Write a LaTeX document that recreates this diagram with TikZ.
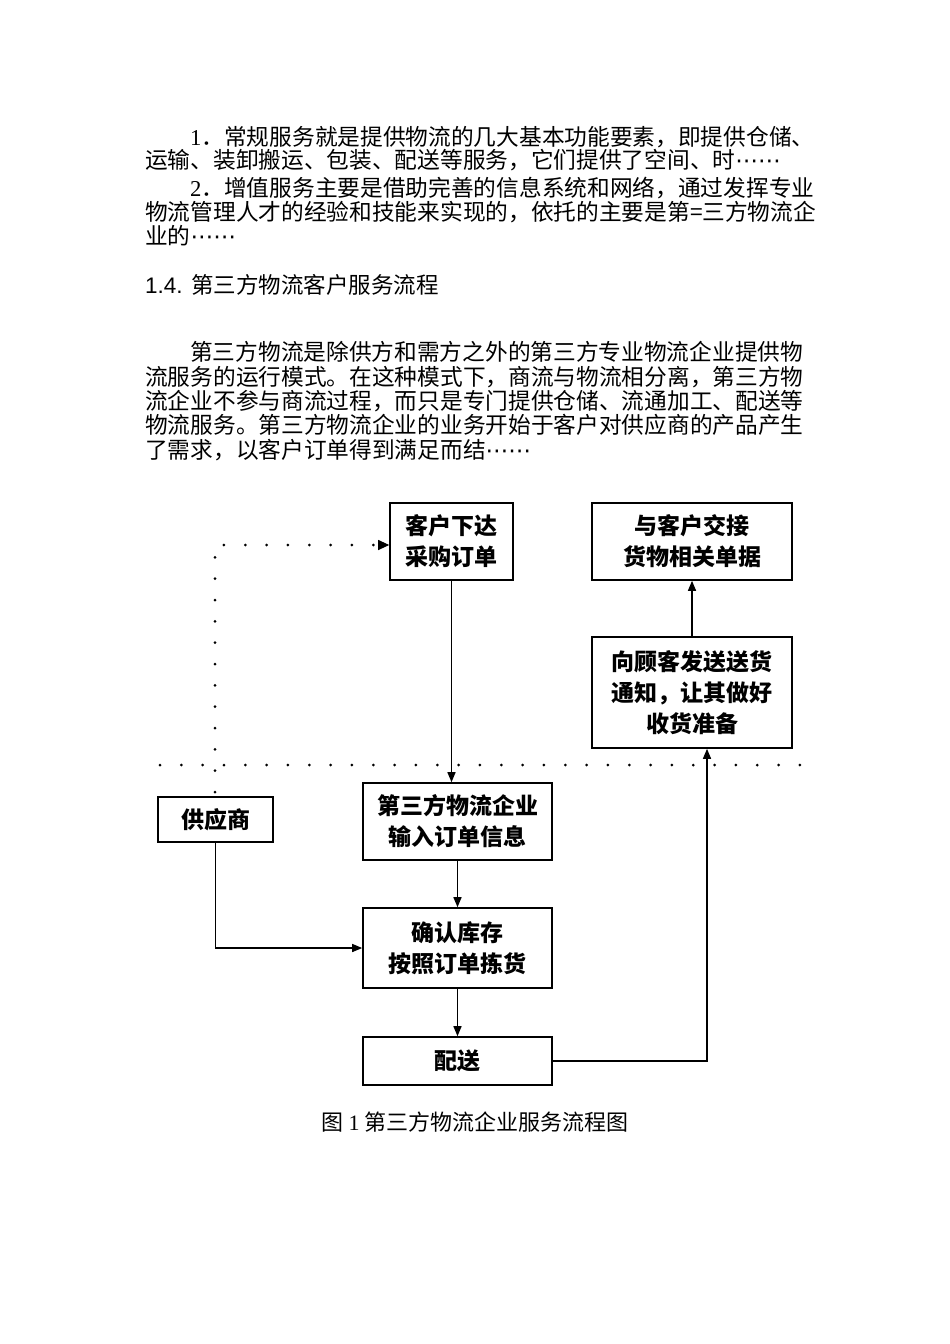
\documentclass[tikz,border=0pt]{standalone}
\usepackage{fontspec}
\setmainfont{Liberation Serif}
\newfontfamily\cjk{Noto Sans CJK SC}
\newfontfamily\lsans{Liberation Sans}
\newfontfamily\dejavu{DejaVu Sans}
\newcommand\myellip{{\dejavu ⋯⋯}}
\usetikzlibrary{arrows.meta}
\tikzset{
  bodyline/.style={anchor=base west, inner sep=0pt, font=\fontsize{22.7pt}{24pt}\selectfont\cjk},
  box/.style={draw=black, line width=1.6pt, inner sep=0pt, align=center,
    font=\fontsize{23pt}{31pt}\selectfont\cjk\bfseries},
  flow/.style={line width=1.4pt, -{Triangle[length=10pt,width=8pt]}},
  dotline/.style={line width=3pt, line cap=round, dash pattern=on 0pt off 21.33pt},
}
\begin{document}
\begin{tikzpicture}[x=1pt,y=-1pt]
\useasboundingbox[fill=white] (0,0) rectangle (950,1344);
% ---- text ----
\node[bodyline] (t1) at (190,145) {{\rmfamily 1}．常规服务就是提供物流的几大基本功能要素，即提供仓储、};
\node[bodyline] (t2) at (145,168) {运输、装卸搬运、包装、配送等服务，它们提供了空间、时\myellip};
\node[bodyline] (t3) at (190,196) {{\rmfamily 2}．增值服务主要是借助完善的信息系统和网络，通过发挥专业};
\node[bodyline] (t4) at (145,220) {物流管理人才的经验和技能来实现的，依托的主要是第=三方物流企};
\node[bodyline] (t5) at (145,244) {业的\myellip};
\node[anchor=base west, inner sep=0pt, font=\fontsize{22.5pt}{24pt}\selectfont] (h) at (145,293) {\lsans 1.4. \cjk 第三方物流客户服务流程};
\node[bodyline] (p1) at (190,360) {第三方物流是除供方和需方之外的第三方专业物流企业提供物};
\node[bodyline] (p2) at (145,385) {流服务的运行模式。在这种模式下，商流与物流相分离，第三方物};
\node[bodyline] (p3) at (145,409) {流企业不参与商流过程，而只是专门提供仓储、流通加工、配送等};
\node[bodyline] (p4) at (145,433) {物流服务。第三方物流企业的业务开始于客户对供应商的产品产生};
\node[bodyline] (p5) at (145,458) {了需求，以客户订单得到满足而结\myellip};
% ---- boxes ----
\node[box, minimum width=123pt, minimum height=77pt] (order) at (451.5,541.5) {客户下达\\采购订单};
\node[box, minimum width=200pt, minimum height=77pt] (handover) at (692,541.5) {与客户交接\\货物相关单据};
\node[box, minimum width=200pt, minimum height=111pt] (notify) at (692,692.5) {向顾客发送送货\\通知，让其做好\\收货准备};
\node[box, minimum width=115pt, minimum height=45pt] (supplier) at (215.5,819.5) {供应商};
\node[box, minimum width=189pt, minimum height=77pt] (input) at (457.5,821.5) {第三方物流企业\\输入订单信息};
\node[box, minimum width=189pt, minimum height=80pt] (confirm) at (457.5,948) {确认库存\\按照订单拣货};
\node[box, minimum width=189pt, minimum height=48pt] (ship) at (457.5,1061) {配送};
% ---- dotted lines ----
\coordinate (hl) at (160,765);
\coordinate (hr) at (800,765);
\coordinate (dtop) at (215,545);
\coordinate (dbot) at (215,792);
\draw[dotline] (hl) -- (hr);
\draw[dotline] (dbot) -- (dtop) -- ([xshift=-12pt]dtop -| order.west);
\draw[line width=1pt, -{Triangle[length=11pt,width=10pt]}] ([xshift=-11pt]dtop -| order.west) -- (dtop -| order.west);
% ---- arrows ----
\draw[flow] (order.south) -- (order.south |- input.north);
\draw[flow] (input.south) -- (confirm.north);
\draw[flow] (confirm.south) -- (ship.north);
\draw[flow] (supplier.south) |- (confirm.west);
\draw[flow] (ship.east) -| ([xshift=15pt]notify.south);
\draw[flow] (notify.north) -- (handover.south);
% ---- caption ----
\node[inner sep=0pt, font=\fontsize{22pt}{24pt}\selectfont\cjk] (cap) at (475,1122) {图 {\rmfamily 1} 第三方物流企业服务流程图};
\end{tikzpicture}
\end{document}
